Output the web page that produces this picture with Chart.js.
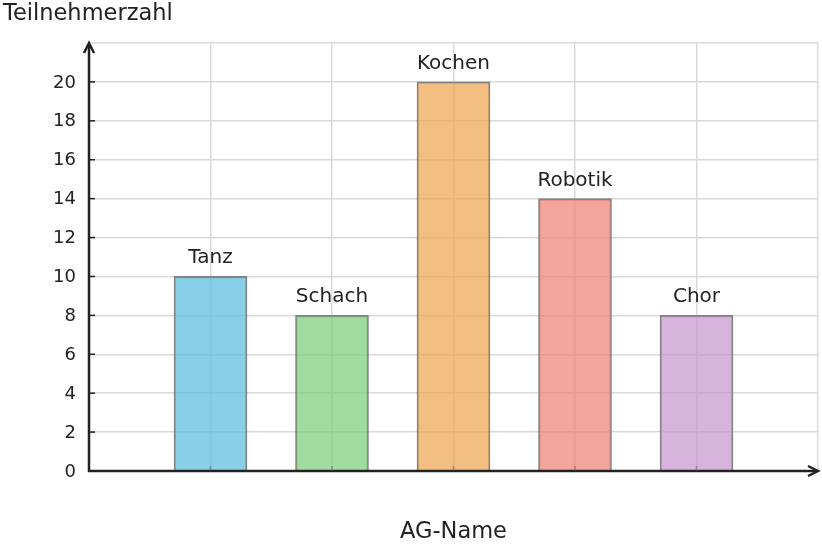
<!DOCTYPE html>
<html>
<head>
<meta charset="utf-8">
<script src="https://cdn.jsdelivr.net/npm/chart.js@4"></script>
<style>
  body { margin: 0; background: #fff; }
  #wrap { width: 822px; height: 548px; }
</style>
</head>
<body>
<div id="wrap"><canvas id="agChart"></canvas></div>
<script>
const categories = ["Tanz", "Schach", "Kochen", "Robotik", "Chor"];
const positions = [1, 2, 3, 4, 5];
const teilnehmer = [10, 8, 20, 14, 8];
const yTicks = [0, 2, 4, 6, 8, 10, 12, 14, 16, 18, 20];
const barColors = [
      "rgba(84, 188, 222, 0.7)",
      "rgba(119, 205, 119, 0.7)",
      "rgba(236, 162, 77, 0.7)",
      "rgba(238, 127, 112, 0.7)",
      "rgba(198, 148, 205, 0.7)",
];
const FONT = "'DejaVu Sans', sans-serif";

// --- eigene Achsen mit Pfeilen, Ticks und Beschriftungen --
const axisPlugin = {
      id: "axisPlugin",
      afterDatasetsDraw(chart) {
            const ctx = chart.ctx;
            const area = chart.chartArea;
            const x = chart.scales.x;
            const y = chart.scales.y;
            const y0 = y.getPixelForValue(0);
            const x0 = x.getPixelForValue(0);

            ctx.save();
            ctx.strokeStyle = "#222";
            ctx.fillStyle = "#222";
            ctx.lineWidth = 2.5;
            ctx.lineCap = "butt";

            // y-Achse
            ctx.beginPath();
            ctx.moveTo(x0, y0 + 1);
            ctx.lineTo(x0, area.top + 1);
            ctx.stroke();
            ctx.beginPath();
            ctx.moveTo(x0 - 5, area.top + 10);
            ctx.lineTo(x0, area.top);
            ctx.lineTo(x0 + 5, area.top + 10);
            ctx.stroke();

            // x-Achse
            ctx.beginPath();
            ctx.moveTo(x0 - 1, y0);
            ctx.lineTo(area.right - 1, y0);
            ctx.stroke();
            ctx.beginPath();
            ctx.moveTo(area.right - 10, y0 - 5);
            ctx.lineTo(area.right, y0);
            ctx.lineTo(area.right - 10, y0 + 5);
            ctx.stroke();

            // y-Ticks
            ctx.lineWidth = 1.5;
            yTicks.forEach((v) => {
                  const py = y.getPixelForValue(v);
                  ctx.beginPath();
                  ctx.moveTo(x0, py);
                  ctx.lineTo(x0 + 6, py);
                  ctx.stroke();
            });
            ctx.font = "18px " + FONT;
            ctx.textAlign = "right";
            ctx.textBaseline = "middle";
            yTicks.forEach((v) => {
                  ctx.fillText(String(v), x0 - 13, y.getPixelForValue(v) + 1);
            });

            // x-Ticks
            ctx.strokeStyle = "rgba(90, 90, 110, 0.5)";
            positions.forEach((p) => {
                  const px = x.getPixelForValue(p);
                  ctx.beginPath();
                  ctx.moveTo(px, y0);
                  ctx.lineTo(px, y0 - 5);
                  ctx.stroke();
            });

            // Beschriftungen über den Balken
            ctx.fillStyle = "#222";
            ctx.font = "20px " + FONT;
            ctx.textAlign = "center";
            ctx.textBaseline = "alphabetic";
            categories.forEach((name, i) => {
                  const px = x.getPixelForValue(positions[i]);
                  const py = y.getPixelForValue(teilnehmer[i]);
                  ctx.fillText(name, px, py - 13);
            });

            // Achsentitel
            ctx.font = "22.5px " + FONT;
            ctx.textAlign = "left";
            ctx.textBaseline = "middle";
            ctx.fillText("Teilnehmerzahl", 3, 14);
            ctx.textAlign = "center";
            ctx.fillText("AG-Name", (area.left + area.right) / 2, 532);
            ctx.restore();
      },
};

const ctx = document.getElementById("agChart");

window.agChart = new Chart(ctx, {
      type: "bar",
      data: {
            datasets: [
                  {
                        label: "Teilnehmerzahl",
                        data: positions.map((p, i) => ({ x: p, y: teilnehmer[i] })),
                        backgroundColor: barColors,
                        borderColor: "rgba(110, 110, 110, 0.85)",
                        borderWidth: 1.5,
                        barThickness: 73,
                  },
            ],
      },
      options: {
            responsive: true,
            maintainAspectRatio: false,
            animation: false,
            layout: { padding: { top: 43, right: 4, left: 0, bottom: 0 } },
            plugins: {
                  legend: { display: false },
                  tooltip: { enabled: false },
            },
            scales: {
                  x: {
                        type: "linear",
                        offset: false,
                        min: 0,
                        max: 6,
                        ticks: { display: false, stepSize: 1 },
                        grid: { color: "#d9d9d9", lineWidth: 1.5, drawTicks: false, offset: false },
                        border: { display: false },
                        afterFit(scale) {
                              scale.height = 77;
                        },
                  },
                  y: {
                        min: 0,
                        max: 22,
                        ticks: { display: false, stepSize: 2 },
                        grid: { color: "#d9d9d9", lineWidth: 1.5, drawTicks: false },
                        border: { display: false },
                        afterFit(scale) {
                              scale.width = 89;
                        },
                  },
            },
      },
      plugins: [axisPlugin],
});
</script>
</body>
</html>
